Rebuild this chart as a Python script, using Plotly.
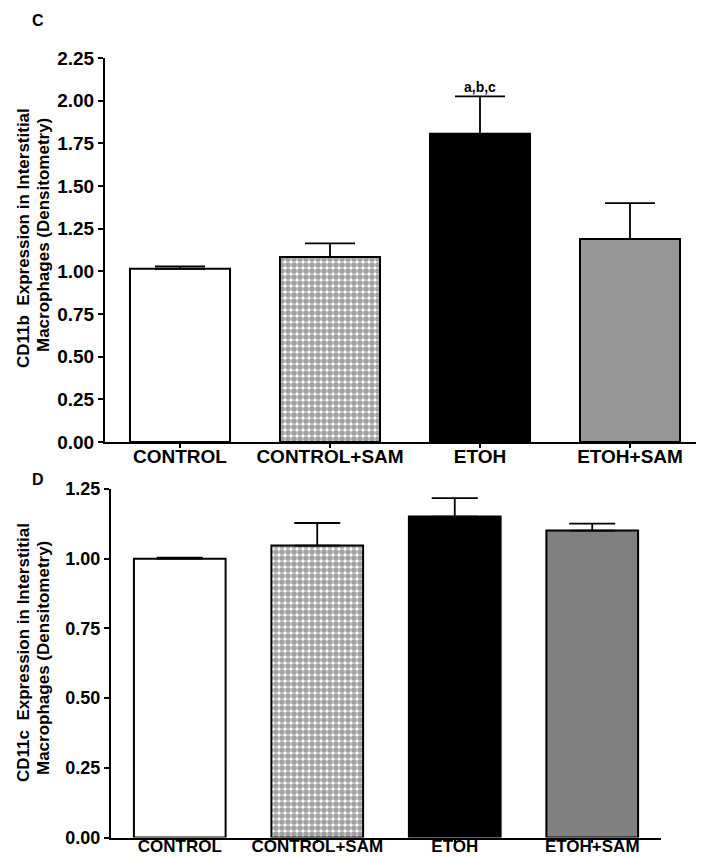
import plotly.graph_objects as go

categories = ["CONTROL", "CONTROL+SAM", "ETOH", "ETOH+SAM"]

cd11b_values = [1.015, 1.084, 1.806, 1.19]
cd11b_errors = [0.014, 0.08, 0.219, 0.21]
cd11b_colors = ["white", "white", "black", "#969696"]

cd11c_values = [1.00, 1.047, 1.151, 1.101]
cd11c_errors = [0.004, 0.081, 0.066, 0.025]
cd11c_colors = ["white", "white", "black", "#808080"]

cd11b_ticks = [0, 0.25, 0.5, 0.75, 1.0, 1.25, 1.5, 1.75, 2.0, 2.25]
cd11c_ticks = [0, 0.25, 0.5, 0.75, 1.0, 1.25]

W, H = 704, 856
FONT = "Liberation Sans, Arial, sans-serif"

def px_x(p):
    return p / W

def px_y(p):
    return 1 - p / H

patterns = ["", ".", "", ""]

fig = go.Figure()
for vals, errs, cols, xa, ya, capw in [
    (cd11b_values, cd11b_errors, cd11b_colors, "x", "y", 25),
    (cd11c_values, cd11c_errors, cd11c_colors, "x2", "y2", 23),
]:
    fig.add_trace(go.Bar(
        x=categories, y=vals, xaxis=xa, yaxis=ya, width=0.667,
        marker=dict(color=cols, line=dict(color="black", width=2),
                    pattern=dict(shape=patterns, fgcolor="black", bgcolor="white",
                                 size=6, solidity=0.7)),
        error_y=dict(type="data", array=errs, arrayminus=[0] * 4, symmetric=False,
                     color="black", thickness=1.8, width=capw),
        showlegend=False,
    ))

common = dict(
    showgrid=False, zeroline=False, showline=True, linecolor="black", linewidth=2,
    ticks="outside", tickcolor="black", tickwidth=1.5,
    automargin=False, fixedrange=True,
)

def tf(size):
    return dict(family=FONT, size=size, color="black", weight="bold")

fig.update_layout(
    width=W, height=H,
    margin=dict(l=0, r=0, t=0, b=0),
    paper_bgcolor="white", plot_bgcolor="white",
    xaxis=dict(domain=[px_x(97), px_x(697)], anchor="y", range=[-0.5, 3.5], ticklen=4,
               tickfont=tf(19), ticklabelstandoff=-8, **common),
    yaxis=dict(domain=[px_y(434), px_y(50)], anchor="x", range=[0, 2.25], ticklen=5,
               tickvals=cd11b_ticks, tickformat=".2f", tickfont=tf(19), **common),
    xaxis2=dict(domain=[px_x(103), px_x(653)], anchor="y2", range=[-0.5, 3.5], ticklen=3,
                tickfont=tf(17), ticklabelstandoff=-11, **common),
    yaxis2=dict(domain=[px_y(829.5), px_y(481)], anchor="x2", range=[0, 1.25], ticklen=5,
                tickvals=cd11c_ticks, tickformat=".2f", tickfont=tf(18), **common),
)

ann_font = dict(family=FONT, color="black", weight="bold")

def rot(text, x, y, size):
    return dict(text=text, x=px_x(x), y=px_y(y), xref="paper", yref="paper",
                textangle=-90, showarrow=False, xanchor="center", yanchor="middle",
                font=dict(size=size, **ann_font))

annotations = [
    dict(text="C", x=px_x(22), y=px_y(12.5), xref="paper", yref="paper",
         xanchor="left", yanchor="middle", showarrow=False, font=dict(size=16, **ann_font)),
    dict(text="D", x=px_x(22), y=px_y(471), xref="paper", yref="paper",
         xanchor="left", yanchor="middle", showarrow=False, font=dict(size=16, **ann_font)),
    dict(text="a,b,c", x="ETOH", y=2.08, xref="x", yref="y", showarrow=False,
         xanchor="center", yanchor="middle", font=dict(size=14, **ann_font)),
    rot("CD11b  Expression in Interstitial", 15, 230, 17),
    rot("Macrophages (Densitometry)", 35, 227, 17),
    rot("CD11c  Expression in Interstitial", 15, 645, 17),
    rot("Macrophages (Densitometry)", 35, 650, 17),
]
fig.update_layout(annotations=annotations)

fig.write_html("out.html")
